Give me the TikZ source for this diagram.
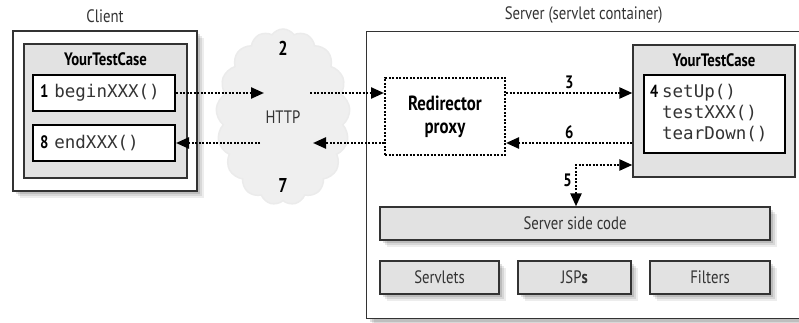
\documentclass[tikz,border=0pt]{standalone}
\usepackage{fontspec}
\setmainfont{PT Sans}[FakeStretch=0.82]
\setmonofont{DejaVu Sans Mono}
\usetikzlibrary{positioning, shapes.symbols, shadows, arrows.meta}

\definecolor{boxgray}{HTML}{E2E2E2}
\definecolor{cloudgray}{HTML}{EFEFEF}
\definecolor{ink}{HTML}{333333}

\newcommand{\meth}[1]{{\fontsize{17.5}{21}\selectfont\ttfamily\color{ink}#1}}

\tikzset{
  >={Triangle[length=13pt,width=11pt]},
  soft/.style={drop shadow={shadow xshift=3pt,shadow yshift=-3pt,fill=black,opacity=.12},
               drop shadow={shadow xshift=5pt,shadow yshift=-5pt,fill=black,opacity=.09},
               drop shadow={shadow xshift=7pt,shadow yshift=-7pt,fill=black,opacity=.07}},
}

\begin{document}
\begin{tikzpicture}[x=1pt,y=-1pt,font=\fontsize{18}{21}\selectfont,
   frame/.style={draw=ink,line width=1.3pt,fill=white,inner sep=0pt},
   case/.style={draw=ink,line width=1.3pt,fill=boxgray,inner sep=0pt},
   code/.style={draw=black,line width=2pt,fill=white,inner sep=0pt,text width=128pt,align=left,minimum width=142pt,minimum height=36pt},
   part/.style={draw=ink,line width=1.3pt,fill=boxgray,inner sep=0pt,minimum height=33pt,text=ink,soft},
   flow/.style={line width=2.4pt,dash pattern=on 2pt off 1.5pt},
   tag/.style={font=\fontsize{18}{21}\selectfont\bfseries,inner sep=0pt}]
   \useasboundingbox (0,0) rectangle (799,323);

   % client side
   \node[frame,soft,minimum width=184pt,minimum height=160pt] (cli) at (105,111) {};
   \node[above=4pt of cli,text=ink] {Client};
   \node[case,minimum width=163pt,minimum height=134pt] (ctc) at (105.5,111) {};
   \node[tag,below=9pt of ctc.north] {YourTestCase};
   \node[code] (beg) at (104,93) {\textbf{1} \meth{beginXXX()}};
   \node[code] (endx) at (104,143) {\textbf{8} \meth{endXXX()}};

   % network
   \node[cloud,cloud puffs=17,cloud puff arc=110,aspect=0.6,fill=cloudgray,draw=black!8,line width=1.5pt,minimum width=134pt,minimum height=176pt,inner sep=0pt,text=ink] (net) at (283,117) {HTTP};
   \node[tag,font=\fontsize{20}{22}\selectfont\bfseries] (n2) at (283,48) {2};
   \node[tag,font=\fontsize{20}{22}\selectfont\bfseries] (n7) at (283,185) {7};
   \coordinate (h1) at (264,94);
   \coordinate (h2) at (310,94);
   \coordinate (h3) at (313,143);
   \coordinate (h4) at (260,143);

   % server side
   \node[frame,soft,minimum width=434pt,minimum height=287pt,anchor=north west] (srv) at (366,31) {};
   \node[above=4pt of srv,text=ink] {Server (servlet container)};
   \node[draw,line width=2pt,dash pattern=on 2pt off 1.5pt,minimum width=120pt,minimum height=77pt,align=center,font=\fontsize{20.5}{23}\selectfont\bfseries] (proxy) at (445,116.5) {Redirector\\proxy};
   \node[case,minimum width=162pt,minimum height=132pt] (stc) at (714,111) {};
   \node[tag,below=9pt of stc.north] {YourTestCase};
   \node[code,text width=129pt,minimum width=141pt,minimum height=78pt] (scode) at (714.5,114)
      {\fontsize{17.5}{21}\selectfont\begin{tabular}{@{}l@{\hspace{4pt}}l@{}}\textbf{4} & \meth{setUp()}\\ & \meth{testXXX()}\\ & \meth{tearDown()}\end{tabular}};
   \node[part,minimum width=390pt] (ssc) at (575,223.5) {Server side code};
   \node[part,minimum width=119pt] (svl) at (439.5,277.5) {Servlets};
   \node[part,minimum width=113pt] (jsp) at (574.5,277.5) {JSP\textbf{s}};
   \node[part,minimum width=120pt] (flt) at (710,277.5) {Filters};
   \coordinate (k5) at (576,165);

   % calls
   \draw[flow,->] (beg.east) -- (beg.east -| h1);
   \draw[flow,->] (beg.east -| h2) -- (beg.east -| proxy.west);
   \draw[flow,->] (proxy.east |- beg.east) -- (stc.west |- beg.east) node[midway,above=3pt,tag] {3};
   \draw[flow,->] (stc.west |- endx.east) -- (proxy.east |- endx.east) node[midway,above=3pt,tag] {6};
   \draw[flow,->] (proxy.west |- endx.east) -- (endx.east -| h3);
   \draw[flow,->] (endx.east -| h4) -- (endx.east);
   \draw[flow,<->] (k5 |- ssc.north) |- (stc.west |- k5) node[pos=.32,left=3pt,tag] {5};
\end{tikzpicture}
\end{document}
